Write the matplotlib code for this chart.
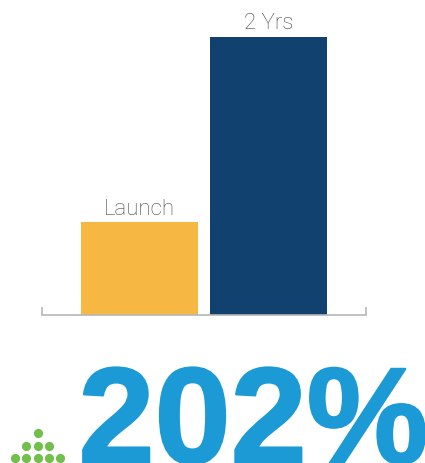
import matplotlib
matplotlib.use("Agg")
import matplotlib.pyplot as plt
import matplotlib.patheffects as pe

# ── Chart data ────────────────────────────────────────────────────────────────
categories = ["Launch", "2 Yrs"]
values     = [100, 302]
colors     = ["#F7B843", "#10416F"]
headline   = "202%"
dot_rows   = [1, 3, 5]   # dots per row of the little pyramid, top to bottom
# ──────────────────────────────────────────────────────────────────────────────

W, H = 425, 464
LABEL_COLOR = "#47484A"
AXIS_COLOR  = "#B5B6B8"
BLUE        = "#1B9AD6"
GREEN       = "#72BF4B"

fig = plt.figure(figsize=(W / 100, H / 100), dpi=100, facecolor="white")


def px_axes(left, top, right, bottom):
    """Axes placed using pixel edges measured from the top left of the image."""
    return fig.add_axes([left / W, 1 - bottom / H, (right - left) / W, (bottom - top) / H])


# Bars
ax = px_axes(42, 37.5, 366, 315.5)
x = list(range(len(categories)))
ax.bar(x, values, width=0.907, color=colors)
ax.set_xlim(-0.756, 1.756)
ax.set_ylim(0, max(values))
for i, v in enumerate(values):
    ax.annotate(categories[i], (i, v), xytext=(0, 2.5), textcoords="offset points",
                ha="center", va="bottom", fontsize=16, color=LABEL_COLOR,
                family="Roboto", fontweight="light", annotation_clip=False)

for side in ["top", "left", "right"]:
    ax.spines[side].set_visible(False)
ax.spines["bottom"].set_color(AXIS_COLOR)
ax.spines["bottom"].set_linewidth(1.2)
ax.set_yticks([])
ax.set_xticks(ax.get_xlim())     # the end ticks make the bracket
ax.set_xticklabels([])
ax.tick_params(axis="x", direction="in", length=5.5, width=1.2, color=AXIS_COLOR)

# Pyramid of dots
dots = px_axes(9.7, 428.5, 65.3, 464.5)
for row, n in enumerate(dot_rows):
    xs = [i - (n - 1) / 2 for i in range(n)]
    dots.scatter(xs, [row] * n, s=44, color=GREEN, linewidths=0, clip_on=True)
dots.set_xlim(-2.48, 2.48)
dots.set_ylim(2.42, -0.46)
dots.axis("off")

# Big number, deliberately running off the bottom edge like the original.
# The thin stroke brings the weight closer to the original's heavier face.
big = fig.text(78.5 / W, 1 - 464 / H, headline, fontsize=98.5, fontweight="bold",
               family="Liberation Sans", color=BLUE, ha="left", va="baseline")
big.set_path_effects([pe.withStroke(linewidth=1.6, foreground=BLUE)])

fig.savefig("out.png", dpi=100, facecolor="white")
